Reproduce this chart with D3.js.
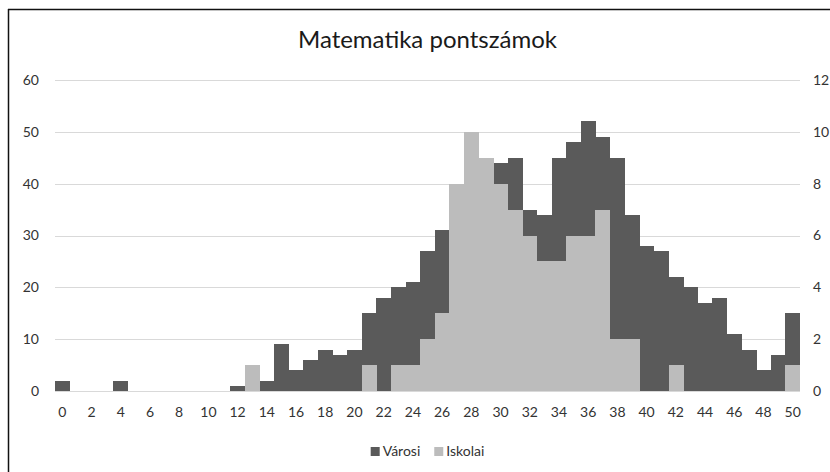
<!DOCTYPE html>
<html>
<head>
<meta charset="utf-8">
<script src="https://cdn.jsdelivr.net/npm/d3@7"></script>
<style>
    body { margin: 0; background: #ffffff; }
    svg { display: block; font-family: Lato, 'Open Sans', sans-serif; }
</style>
</head>
<body>
<svg id="chart" width="830" height="472"></svg>
<script>
// pontszámok 0..50
let categories = [0, 1, 2, 3, 4, 5, 6, 7, 8, 9,
                  10, 11, 12, 13, 14, 15, 16, 17, 18, 19,
                  20, 21, 22, 23, 24, 25, 26, 27, 28, 29,
                  30, 31, 32, 33, 34, 35, 36, 37, 38, 39,
                  40, 41, 42, 43, 44, 45, 46, 47, 48, 49, 50];

// bal tengely
let varosi = [2, 0, 0, 0, 2, 0, 0, 0, 0, 0,
              0, 0, 1, 3, 2, 9, 4, 6, 8, 7,
              8, 15, 18, 20, 21, 27, 31, 38, 42, 44,
              44, 45, 35, 34, 45, 48, 52, 49, 45, 34,
              28, 27, 22, 20, 17, 18, 11, 8, 4, 7, 15];

// jobb tengely
let iskolai = [0, 0, 0, 0, 0, 0, 0, 0, 0, 0,
               0, 0, 0, 1, 0, 0, 0, 0, 0, 0,
               0, 1, 0, 1, 1, 2, 3, 8, 10, 9,
               8, 7, 6, 5, 5, 6, 6, 7, 2, 2,
               0, 0, 1, 0, 0, 0, 0, 0, 0, 0, 1];

let leftTicks  = [0, 10, 20, 30, 40, 50, 60];
let rightTicks = [0, 2, 4, 6, 8, 10, 12];

let seriesNames = ['Városi', 'Iskolai'];
let title = 'Matematika pontszámok';

class Chart {
    constructor (selector) {
        this.svg = d3.select(selector);
        this.box = { left: 55, right: 800, top: 80, bottom: 391 };
        this.colors = { varosi: '#5a5a5a', iskolai: '#bcbcbc', grid: '#d9d9d9', text: '#333333' };

        this.x = d3.scaleBand()
            .domain(categories)
            .range([this.box.left, this.box.right])
            .padding(0);
        this.yLeft = d3.scaleLinear()
            .domain([0, 60])
            .range([this.box.bottom, this.box.top]);
        this.yRight = d3.scaleLinear()
            .domain([0, 12])
            .range([this.box.bottom, this.box.top]);
    }
    draw () {
        this.drawFrame();
        this.drawGrid();
        this.drawBars('varosi', varosi, this.yLeft);
        this.drawBars('iskolai', iskolai, this.yRight);
        this.drawAxes();
        this.drawTitle();
        this.drawLegend();
    }
    drawFrame () {
        let svg = this.svg;

        svg.append('line')
            .attr('x1', 8.5).attr('x2', 8.5)
            .attr('y1', 9).attr('y2', 472)
            .attr('stroke', '#111111')
            .attr('stroke-width', 1.5);
        svg.append('line')
            .attr('x1', 8).attr('x2', 830)
            .attr('y1', 9.5).attr('y2', 9.5)
            .attr('stroke', '#111111')
            .attr('stroke-width', 1.5);
    }
    drawGrid () {
        this.svg.append('g')
            .attr('class', 'grid')
            .selectAll('line')
            .data(leftTicks)
            .enter()
            .append('line')
            .attr('x1', this.box.left)
            .attr('x2', this.box.right)
            .attr('y1', (d) => { return Math.round(this.yLeft(d)) + 0.5; })
            .attr('y2', (d) => { return Math.round(this.yLeft(d)) + 0.5; })
            .attr('stroke', this.colors.grid)
            .attr('stroke-width', 1);
    }
    drawBars (code, values, y) {
        let x = this.x;

        this.svg.append('g')
            .attr('class', 'bars ' + code)
            .attr('shape-rendering', 'crispEdges')
            .selectAll('rect')
            .data(values.map((v, i) => { return { c: categories[i], v: v }; }))
            .enter()
            .filter((d) => { return d.v > 0; })
            .append('rect')
            .attr('x', (d) => { return x(d.c); })
            .attr('width', x.bandwidth() + 0.4)
            .attr('y', (d) => { return y(d.v); })
            .attr('height', (d) => { return y(0) - y(d.v); })
            .attr('fill', this.colors[code]);
    }
    drawAxes () {
        let svg = this.svg;
        let c = this.colors;

        let bottom = svg.append('g')
            .attr('transform', 'translate(0,' + (this.box.bottom + 10) + ')')
            .call(d3.axisBottom(this.x)
                .tickValues(categories.filter((d, i) => { return i % 2 === 0; }))
                .tickSize(0)
                .tickPadding(6));
        bottom.select('.domain').remove();

        let left = svg.append('g')
            .attr('transform', 'translate(' + (this.box.left - 16) + ',0)')
            .call(d3.axisLeft(this.yLeft).tickValues(leftTicks).tickSize(0).tickPadding(0));
        left.select('.domain').remove();

        let right = svg.append('g')
            .attr('transform', 'translate(' + (this.box.right + 13) + ',0)')
            .call(d3.axisRight(this.yRight).tickValues(rightTicks).tickSize(0).tickPadding(0));
        right.select('.domain').remove();

        svg.selectAll('.tick text')
            .attr('font-family', 'Lato, sans-serif')
            .attr('font-size', 14)
            .attr('fill', c.text);
    }
    drawTitle () {
        this.svg.append('text')
            .attr('x', (this.box.left + this.box.right) / 2)
            .attr('y', 48)
            .attr('text-anchor', 'middle')
            .attr('font-size', 24)
            .attr('fill', '#1a1a1a')
            .text(title);
    }
    drawLegend () {
        let codes = ['varosi', 'iskolai'];
        let g = this.svg.append('g').attr('class', 'legend');
        let x = 0;

        seriesNames.forEach((name, i) => {
            let item = g.append('g').attr('transform', 'translate(' + x + ',0)');
            item.append('rect')
                .attr('x', 0).attr('y', -9)
                .attr('width', 9).attr('height', 9)
                .attr('fill', this.colors[codes[i]]);
            let t = item.append('text')
                .attr('x', 12)
                .attr('y', 0)
                .attr('font-size', 14)
                .attr('fill', this.colors.text)
                .text(name);
            x += 12 + t.node().getComputedTextLength() + 14;
        });

        let w = x - 14;
        g.attr('transform', 'translate(' + ((this.box.left + this.box.right) / 2 - w / 2) + ',456)');
    }
}

new Chart('#chart').draw();
</script>
</body>
</html>
